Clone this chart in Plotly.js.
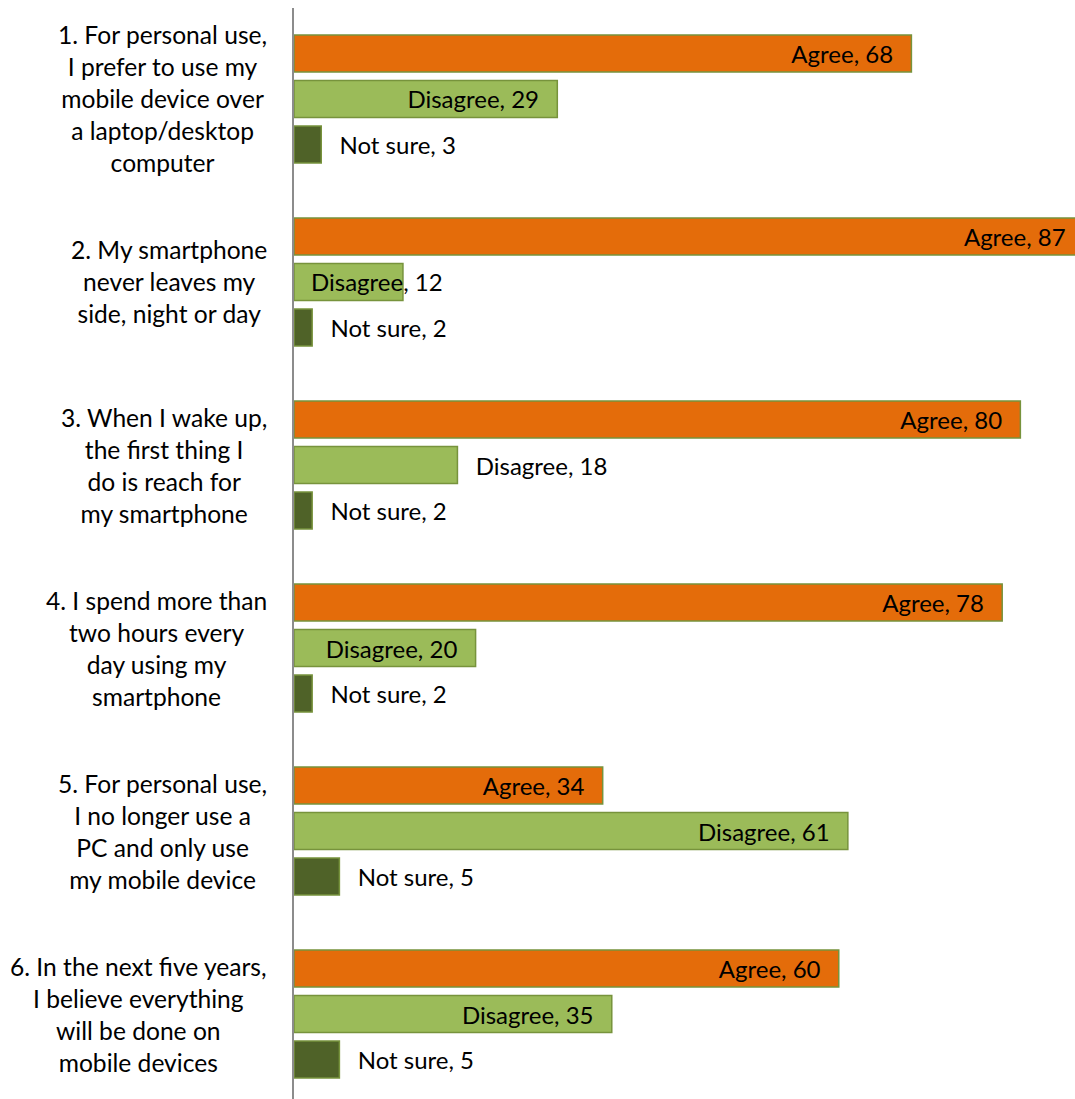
<!DOCTYPE html>
<html>
<head>
<meta charset="utf-8">
<script src="https://cdn.plot.ly/plotly-3.0.1.min.js"></script>
<style>
html, body { margin: 0; padding: 0; overflow: hidden; background: #fff; }
#chart { width: 1090px; height: 1099px; }
</style>
</head>
<body>
<div id="chart"></div>
<script>
var categories = [
  "1. For personal use,<br>I prefer to use my<br>mobile device over<br>a laptop/desktop<br>computer",
  "2. My smartphone<br>never leaves my<br>side, night or day",
  "3. When I wake up,<br>the first thing I<br>do is reach for<br>my smartphone",
  "4. I spend more than<br>two hours every<br>day using my<br>smartphone",
  "5. For personal use,<br>I no longer use a<br>PC and only use<br>my mobile device",
  "6. In the next five years,<br>I believe everything<br>will be done on<br>mobile devices"
];
var seriesNames = ["Agree", "Disagree", "Not sure"];
var agree = [68, 87, 80, 78, 34, 60];
var disagree = [29, 12, 18, 20, 61, 35];
var notSure = [3, 2, 2, 2, 5, 5];

var colors = ["#E46C0A", "#9BBB59", "#4F6228"];
var outline = "#77933C";
var FONT = "Lato, 'Open Sans', sans-serif";
var pad = "\u00a0\u00a0\u2009";
var catIdx = categories.map(function(_, i){ return i; });

/* "overflow" = label wider than its bar, drawn across the bar end */
var posAgree = ["inside", "inside", "inside", "inside", "inside", "inside"];
var posDisagree = ["inside", "overflow", "outside", "inside", "inside", "inside"];
var posNotSure = ["outside", "outside", "outside", "outside", "outside", "outside"];

var allVals = [agree, disagree, notSure];
var allPos = [posAgree, posDisagree, posNotSure];

function labels(k) {
  return allVals[k].map(function(v, i){
    var t = seriesNames[k] + ", " + v;
    var p = allPos[k][i];
    if (p === "overflow") return "";
    return p === "inside" ? t + pad : pad + t;
  });
}

var labelFont = {family: FONT, size: 24, color: "#000"};

var traces = allVals.map(function(vals, k){
  return {
    type: "bar",
    orientation: "h",
    name: seriesNames[k],
    x: vals,
    y: catIdx,
    text: labels(k),
    textposition: allPos[k].map(function(p){ return p === "overflow" ? "none" : p; }),
    insidetextanchor: "end",
    constraintext: "none",
    textfont: labelFont, insidetextfont: labelFont, outsidetextfont: labelFont,
    cliponaxis: false,
    marker: {color: colors[k], line: {color: outline, width: 1.5}},
    hoverinfo: "skip"
  };
});

var annotations = categories.map(function(c, i){
  return {
    xref: "paper", yref: "y",
    x: -0.0314, y: i,
    xanchor: "right", yanchor: "middle",
    text: c, showarrow: false, align: "center",
    font: {family: FONT, size: 24.6, color: "#000"}
  };
});

allVals.forEach(function(vals, k){
  vals.forEach(function(v, i){
    if (allPos[k][i] === "overflow") {
      annotations.push({
        xref: "x", yref: "y", x: v, y: i,
        xanchor: "right", yanchor: "middle",
        xshift: 42,
        yshift: 0,
        text: seriesNames[k] + ", " + v, showarrow: false,
        font: labelFont
      });
    }
  });
});

var layout = {
  width: 1090, height: 1099,
  margin: {l: 294, r: 0, t: 8, b: 0, pad: 0},
  paper_bgcolor: "#fff", plot_bgcolor: "#fff",
  showlegend: false,
  barmode: "group",
  bargap: 0.254,
  bargroupgap: 0.187,
  xaxis: {range: [0, 87.67], showgrid: false, zeroline: false, showticklabels: false, showline: false, fixedrange: true},
  yaxis: {type: "linear", range: [5.464, -0.497], showgrid: false, zeroline: false, showticklabels: false,
          showline: true, linecolor: "#8C8C8C", linewidth: 2, ticks: "", fixedrange: true},
  annotations: annotations,
  font: {family: FONT}
};

Plotly.newPlot("chart", traces, layout, {displayModeBar: false, staticPlot: true});
</script>
</body>
</html>
